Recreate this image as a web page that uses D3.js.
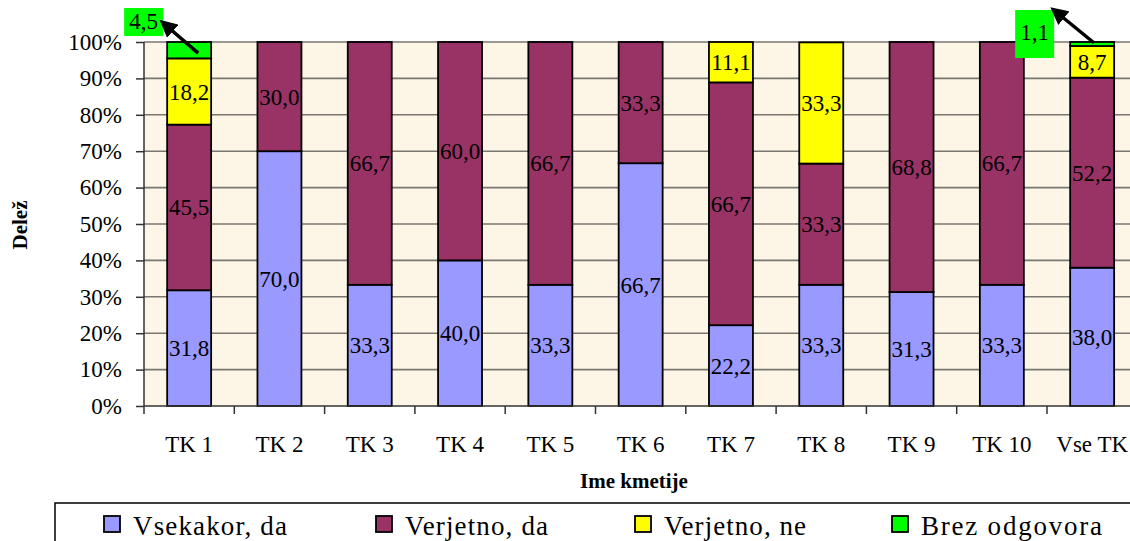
<!DOCTYPE html>
<html><head><meta charset="utf-8">
<script src="https://cdn.jsdelivr.net/npm/d3@7"></script>
<style>html,body{margin:0;padding:0;background:#fff;overflow:hidden}svg{display:block}
svg text{font-family:"Liberation Serif","Times New Roman",Times,serif;}</style>
</head><body>
<svg id="c" width="1130" height="541"></svg>
<script>
const categories = ["TK 1","TK 2","TK 3","TK 4","TK 5","TK 6","TK 7","TK 8","TK 9","TK 10","Vse TK"];
const seriesNames = ["Vsekakor, da","Verjetno, da","Verjetno, ne","Brez odgovora"];
const vsekakorDa   = [31.8, 70.0, 33.3, 40.0, 33.3, 66.7, 22.2, 33.3, 31.3, 33.3, 38.0];
const verjetnoDa   = [45.5, 30.0, 66.7, 60.0, 66.7, 33.3, 66.7, 33.3, 68.8, 66.7, 52.2];
const verjetnoNe   = [18.2, 0, 0, 0, 0, 0, 11.1, 33.3, 0, 0, 8.7];
const brezOdgovora = [4.5, 0, 0, 0, 0, 0, 0, 0, 0, 0, 1.1];
const yTicks = [0,10,20,30,40,50,60,70,80,90,100];
const colors = ["#9999ff","#993366","#ffff00","#00ff00"];

const svg = d3.select("#c");
const L = 144, T = 42, B = 406, step = 90.3;
const R = L + step*categories.length;

const defs = svg.append("defs");
defs.append("marker").attr("id","ah").attr("viewBox","0 0 10 10").attr("refX",2).attr("refY",5)
  .attr("markerWidth",5).attr("markerHeight",5).attr("orient","auto-start-reverse")
  .append("path").attr("d","M0,0 L10,5 L0,10 z").attr("fill","#000");

const x = d3.scaleBand().domain(categories).range([L, R]).paddingInner(0.513).paddingOuter(0.2565);
const y = d3.scaleLinear().domain([0,100]).range([B, T]);

svg.append("rect").attr("x",L).attr("y",T).attr("width",R-L).attr("height",B-T).attr("fill","#fdf6e6");

svg.append("g").selectAll("line").data(yTicks.filter(d=>d>0)).join("line")
  .attr("x1",L).attr("x2",R).attr("y1",d=>y(d)).attr("y2",d=>y(d))
  .attr("stroke","#7a7670").attr("stroke-width",1.6);

const rows = categories.map((c,i)=>({cat:c, s0:vsekakorDa[i], s1:verjetnoDa[i], s2:verjetnoNe[i], s3:brezOdgovora[i]}));
const stack = d3.stack().keys(["s0","s1","s2","s3"])(rows);
const gBars = svg.append("g");
stack.forEach((layer,k)=>{
  gBars.append("g").selectAll("rect").data(layer.filter(d=>d[1]-d[0]>0)).join("rect")
    .attr("x",d=>x(d.data.cat)).attr("width",x.bandwidth())
    .attr("y",d=>y(Math.min(d[1],100))).attr("height",d=>y(d[0])-y(Math.min(d[1],100)))
    .attr("fill",colors[k]).attr("stroke","#000").attr("stroke-width",1.8);
});

const yAxis = d3.axisLeft(y).tickValues(yTicks).tickFormat(d=>d+"%").tickSize(8).tickPadding(14);
const gy = svg.append("g").attr("transform",`translate(${L},0)`).call(yAxis);
gy.attr("font-family",null).attr("font-size",null);
gy.selectAll("text").style("font-size","23px").attr("fill","#000");
gy.selectAll("line").attr("stroke","#333").attr("stroke-width",1.5);
gy.select(".domain").attr("stroke","#333").attr("stroke-width",1.5).attr("d",`M0,${T}V${B}`);

const xAxis = d3.axisBottom(x).tickSize(0).tickPadding(30);
const gx = svg.append("g").attr("transform",`translate(0,${B})`).call(xAxis);
gx.attr("font-family",null).attr("font-size",null);
gx.select(".domain").attr("stroke","#333").attr("stroke-width",1.5).attr("d",`M${L},0H${R}`);
gx.selectAll("text").style("font-size","23px").attr("fill","#000");
svg.append("g").selectAll("line").data(d3.range(categories.length+1)).join("line")
  .attr("x1",i=>L+i*x.step()).attr("x2",i=>L+i*x.step()).attr("y1",B).attr("y2",B+8)
  .attr("stroke","#333").attr("stroke-width",1.5);

const gLab = svg.append("g").style("font-size","23px").attr("fill","#000").attr("text-anchor","middle");
const fmt = v => v.toFixed(1).replace(".",",");
stack.forEach((layer,k)=>{
  if(k===3) return;
  layer.filter(d=>d[1]-d[0]>0).forEach(d=>{
    gLab.append("text").attr("x",x(d.data.cat)+x.bandwidth()/2)
      .attr("y",(y(d[0])+y(Math.min(d[1],100)))/2).attr("dy","0.35em").text(fmt(d[1]-d[0]));
  });
});

const callouts = stack[3].filter(d=>d[1]-d[0]>0);
callouts.forEach((d,i)=>{
  const bx = x(d.data.cat), bw = x.bandwidth();
  const first = i===0;
  const boxX = first ? bx-43 : bx-55, boxY = first ? y(100)-34 : y(100)-32;
  const boxW = 39, boxH = first ? 28 : 48;
  svg.append("rect").attr("x",boxX).attr("y",boxY).attr("width",boxW).attr("height",boxH).attr("fill","#00ff00");
  svg.append("text").attr("x",boxX+boxW/2).attr("y",first?boxY+13:boxY+22).attr("dy","0.35em")
    .attr("text-anchor","middle").style("font-size","23px").text(fmt(d[1]-d[0]));
  const tx = first ? bx+bw/2+9 : bx+bw/2+2, ty = first ? y((d[0]+d[1])/2)+3 : y(d[1])+1;
  const hx = boxX+boxW+7, hy = first ? boxY+21 : boxY+6;
  svg.append("line").attr("x1",tx).attr("y1",ty).attr("x2",hx).attr("y2",hy)
    .attr("stroke","#000").attr("stroke-width",3.5).attr("marker-end","url(#ah)");
});

svg.append("text").attr("transform","translate(27,225) rotate(-90)").attr("text-anchor","middle")
  .style("font-size","21px").attr("font-weight","bold").text("Delež");
svg.append("text").attr("x",634).attr("y",488).attr("text-anchor","middle")
  .style("font-size","21px").attr("font-weight","bold").text("Ime kmetije");

svg.append("rect").attr("x",55).attr("y",503).attr("width",1110).attr("height",70)
  .attr("fill","#fff").attr("stroke","#000").attr("stroke-width",1.5);
const legX = [104, 376, 635, 892];
const legW = [154, 143, 142, 181];
const gLeg = svg.append("g");
seriesNames.forEach((n,i)=>{
  gLeg.append("rect").attr("x",legX[i]).attr("y",516).attr("width",16).attr("height",16)
    .attr("fill",colors[i]).attr("stroke","#000").attr("stroke-width",1.8);
  gLeg.append("text").attr("x",legX[i]+29).attr("y",535).style("font-size","27px")
    .attr("textLength",legW[i]).attr("lengthAdjust","spacing")
    .attr("fill","#000").text(n);
});
</script>
</body></html>
